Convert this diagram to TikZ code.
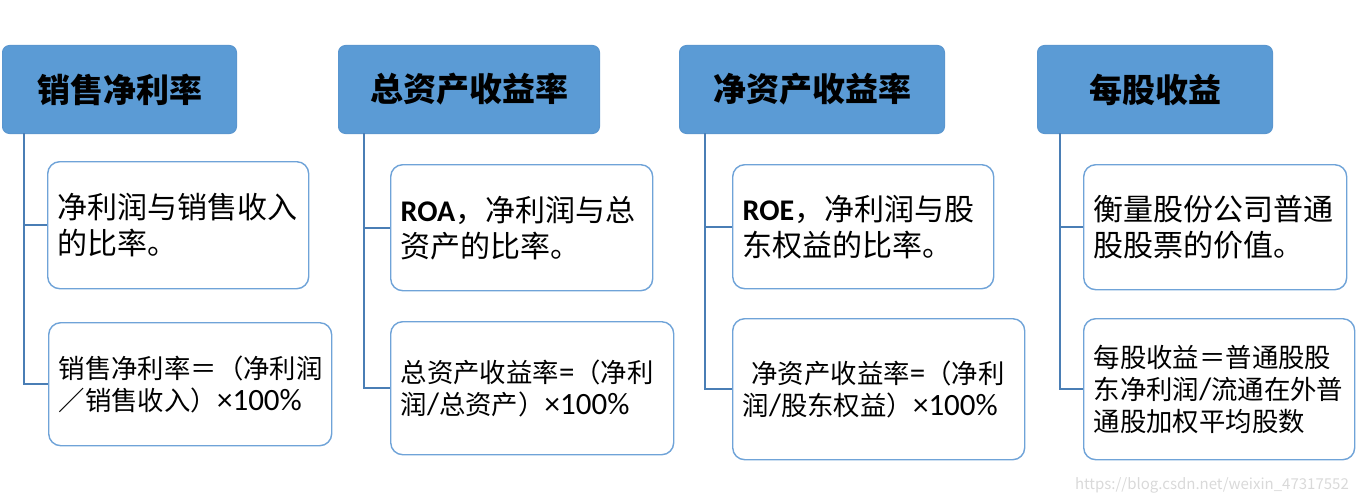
\documentclass[tikz,border=0pt]{standalone}
\usepackage{fontspec}
\setmainfont{Noto Sans CJK SC}
\newfontfamily\lat{Carlito}
\newcommand\latbig[1]{{\lat\fontsize{31}{32}\selectfont #1}}
\definecolor{hdr}{HTML}{5B9BD5}
\definecolor{hdrline}{HTML}{5A96CF}
\definecolor{boxline}{HTML}{6FA3D8}
\definecolor{conn}{HTML}{4A7EB5}
\tikzset{
  header/.style={draw=hdrline, line width=1pt, fill=hdr, rounded corners=7pt, anchor=north west,
    font=\bfseries\fontsize{33}{38}\selectfont, inner sep=0pt, align=center},
  desc/.style={draw=boxline, line width=1.4pt, fill=white, rounded corners=12pt, anchor=north west,
    inner xsep=10pt, inner ysep=0pt, align=left, font=\fontsize{30}{36}\selectfont},
  formula/.style={desc, font=\fontsize{26.4}{32}\selectfont},
  connline/.style={draw=conn, line width=2pt},
}
\begin{document}
\begin{tikzpicture}[x=1pt, y=-1pt]
\useasboundingbox (0,0) rectangle (1356,503);
% column 1
\node[header, minimum width=234pt, minimum height=88pt] (h1) at (2,45) {销售净利率};
\node[desc, minimum width=261pt, minimum height=127pt, text width=241pt] (b11) at (47,161) {净利润与销售收入\\的比率。};
\node[formula, minimum width=283pt, minimum height=123pt, text width=263pt] (b12) at (48,322) {销售净利率＝（净利润\\／销售收入）\latbig{×100\%}};
\coordinate (t1) at (24,133);
\draw[connline] (t1) |- (b12.west);
\draw[connline] (t1) |- (b11.west);
% column 2
\node[header, minimum width=261pt, minimum height=88pt] (h2) at (338,45) {总资产收益率};
\node[desc, minimum width=262pt, minimum height=126pt, text width=242pt] (b21) at (390,164) {{\lat\bfseries ROA}，净利润与总\\资产的比率。};
\node[formula, minimum width=283pt, minimum height=133pt, text width=263pt] (b22) at (390,321) {总资产收益率\latbig{=}（净利\\润\latbig{/}总资产）\latbig{×100\%}};
\coordinate (t2) at (364,133);
\draw[connline] (t2) |- (b22.west);
\draw[connline] (t2) |- (b21.west);
% column 3
\node[header, minimum width=265pt, minimum height=88pt] (h3) at (679,45) {净资产收益率};
\node[desc, minimum width=261pt, minimum height=124pt, text width=241pt] (b31) at (732,164) {{\lat\bfseries ROE}，净利润与股\\东权益的比率。};
\node[formula, minimum width=292pt, minimum height=141pt, text width=272pt] (b32) at (732,318) {\ 净资产收益率\latbig{=}（净利\\润\latbig{/}股东权益）\latbig{×100\%}};
\coordinate (t3) at (705,133);
\draw[connline] (t3) |- (b32.west);
\draw[connline] (t3) |- (b31.west);
% column 4
\node[header, minimum width=235pt, minimum height=88pt] (h4) at (1037,45) {每股收益};
\node[desc, minimum width=263pt, minimum height=125pt, text width=243pt] (b41) at (1083,164) {衡量股份公司普通\\股股票的价值。};
\node[formula, minimum width=271pt, minimum height=141pt, text width=251pt] (b42) at (1083,318) {每股收益＝普通股股\\东净利润\latbig{/}流通在外普\\通股加权平均股数};
\coordinate (t4) at (1060,133);
\draw[connline] (t4) |- (b42.west);
\draw[connline] (t4) |- (b41.west);
% watermark
\node[anchor=east, text=black!15, font=\fontsize{15}{18}\selectfont, inner sep=0pt] (wm) at (1349,485) {https://blog.csdn.net/weixin\_47317552};
\end{tikzpicture}
\end{document}
